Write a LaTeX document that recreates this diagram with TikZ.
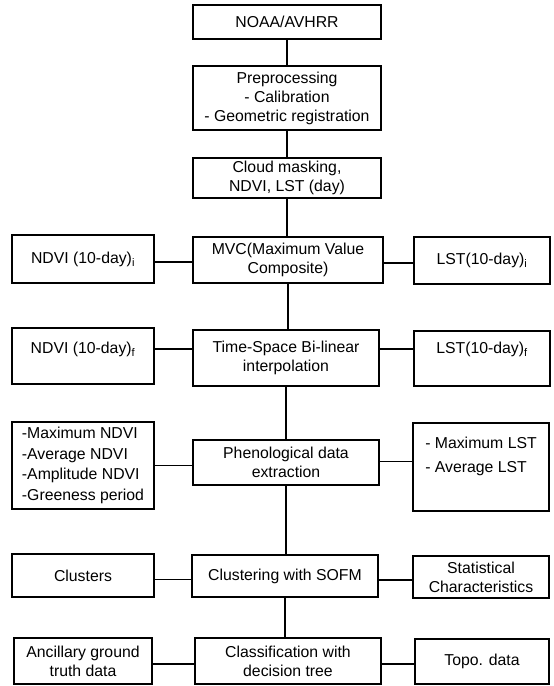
\documentclass[tikz,border=0pt]{standalone}
\usepackage{fontspec}
\setmainfont{Liberation Sans}
\begin{document}
\begin{tikzpicture}[x=1pt,y=-1pt,
  every node/.style={font=\fontsize{15.8}{19}\selectfont},
  box/.style={draw, line width=1.2pt, inner sep=0pt, align=center},
  txt/.style={inner sep=0pt, align=center},
  link/.style={line width=1.2pt}]
\useasboundingbox (0,0) rectangle (554,686);
% centre column
\node[box, minimum width=188pt, minimum height=34pt] (noaa) at (287,22) {NOAA/AVHRR};
\node[box, minimum width=188pt, minimum height=64pt] (pre) at (287,98) {Preprocessing\\- Calibration\\- Geometric registration};
\node[box, minimum width=188pt, minimum height=40pt] (cloud) at (287,178) {Cloud masking,\\NDVI, LST (day)};
\node[box, minimum width=190pt, minimum height=46pt] (mvc) at (288,260) {MVC(Maximum Value\\Composite)};
\node[box, minimum width=186pt, minimum height=56pt] (ts) at (286,358) {Time-Space Bi-linear\\interpolation};
\node[box, minimum width=186pt, minimum height=45pt] (phen) at (286,462.5) {Phenological data\\extraction};
\node[box, minimum width=186pt, minimum height=42pt] (clus) at (285,576) {Clustering with SOFM};
\node[box, minimum width=186pt, minimum height=46pt] (cls) at (288,661) {Classification with\\decision tree};
% left column
\node[box, minimum width=142pt, minimum height=48pt] (ndvii) at (83,259) {NDVI (10-day)\textsubscript{i}};
\node[box, minimum width=142pt, minimum height=56pt] (ndvif) at (83,356) {};
\node[txt] (ndvift) at (83,349) {NDVI (10-day)\textsubscript{f}};
\node[box, minimum width=142pt, minimum height=87pt, align=left, font=\fontsize{15.8}{20.7}\selectfont] (ndvip) at (83,465.5) {-Maximum NDVI\\-Average NDVI\\-Amplitude NDVI\\-Greeness period};
\node[box, minimum width=142pt, minimum height=43pt] (clusters) at (83,575.5) {Clusters};
\node[box, minimum width=138pt, minimum height=46pt] (anc) at (83,661) {Ancillary ground\\truth data};
% right column
\node[box, minimum width=136pt, minimum height=47pt] (lsti) at (482,260.5) {LST(10-day)\textsubscript{i}};
\node[box, minimum width=136pt, minimum height=55pt] (lstf) at (482,358.5) {};
\node[txt] (lstft) at (482,349) {LST(10-day)\textsubscript{f}};
\node[box, minimum width=136pt, minimum height=88pt, align=left, font=\fontsize{15.8}{24}\selectfont] (lstp) at (481,467) {- Maximum LST\\- Average LST\\\mbox{}};
\node[box, minimum width=136pt, minimum height=42pt] (stat) at (481,577) {Statistical\\Characteristics};
\node[box, minimum width=134pt, minimum height=45pt] (topo) at (482,661.5) {Topo. data};
% vertical connectors
\draw[link] (noaa.south) -- (pre.north);
\draw[link] (pre.south) -- (cloud.north);
\draw[link] (cloud.south) -- (cloud.south |- mvc.north);
\draw[link] (mvc.south) -- (mvc.south |- ts.north);
\draw[link] (ts.south) -- (ts.south |- phen.north);
\draw[link] (phen.south) -- (phen.south |- clus.north);
\draw[link] (clus.south) -- (clus.south |- cls.north);
% horizontal connectors
\draw[link] ([yshift=-3pt]ndvii.east) -- ([yshift=-3pt]ndvii.east -| mvc.west);
\draw[link] ([yshift=-3pt]mvc.east) -- ([yshift=-3pt]mvc.east -| lsti.west);
\draw[link] (ndvif.east |- ndvift) -- (ts.west |- ndvift);
\draw[link] (ts.east |- lstft) -- (lstf.west |- lstft);
\draw[link] (ndvip.east) -- (ndvip.east -| phen.west);
\draw[link] ([yshift=1pt]phen.east) -- ([yshift=1pt]phen.east -| lstp.west);
\draw[link] ([yshift=-4pt]clusters.east) -- ([yshift=-4pt]clusters.east -| clus.west);
\draw[link] ([yshift=-4pt]clus.east) -- ([yshift=-4pt]clus.east -| stat.west);
\draw[link] ([yshift=-3pt]anc.east) -- ([yshift=-3pt]anc.east -| cls.west);
\draw[link] ([yshift=-3pt]cls.east) -- ([yshift=-3pt]cls.east -| topo.west);
\end{tikzpicture}
\end{document}
